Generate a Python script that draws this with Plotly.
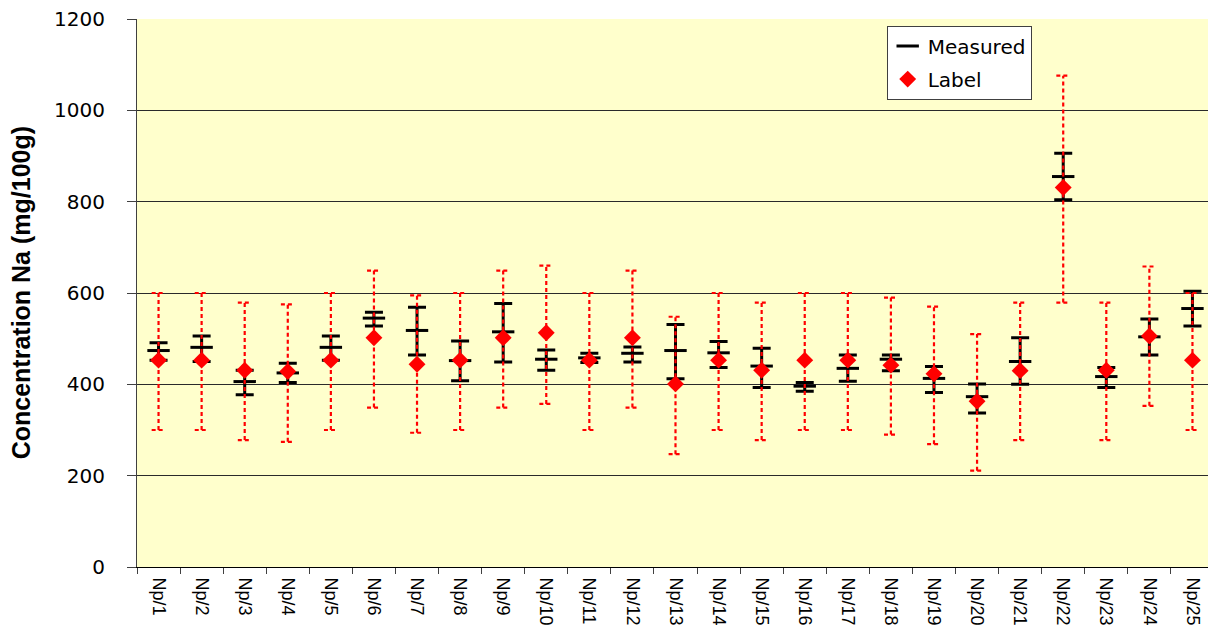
import plotly.graph_objects as go

# Sample codes
samples = [f"Np/{i}" for i in range(1, 26)]

# Measured sodium: mean with upper / lower limits (mg/100g)
measured_mean = [474, 481, 406, 425, 481, 545, 518, 452, 515, 455, 458, 468, 474,
                 469, 440, 396, 435, 455, 413, 373, 450, 855, 417, 504, 566]
measured_high = [491, 506, 431, 446, 506, 558, 569, 495, 577, 475, 468, 482, 531,
                 494, 479, 404, 464, 464, 439, 401, 502, 906, 437, 543, 604]
measured_low = [453, 450, 377, 404, 453, 528, 464, 408, 449, 431, 448, 449, 412,
                437, 393, 385, 407, 430, 382, 337, 400, 804, 393, 464, 528]

# Declared (label) sodium with its tolerance range (mg/100g)
label_value = [453, 453, 431, 428, 453, 502, 444, 453, 502, 513, 453, 502, 401,
               453, 431, 453, 453, 442, 423, 363, 430, 831, 431, 506, 453]
label_low = [300, 300, 278, 274, 300, 349, 294, 300, 349, 357, 300, 349, 247,
             300, 278, 300, 300, 290, 269, 211, 278, 579, 278, 353, 300]
label_high = [600, 600, 579, 575, 600, 649, 595, 600, 649, 660, 600, 649, 548,
              600, 579, 600, 600, 590, 570, 510, 579, 1076, 579, 658, 600]

y_ticks = [0, 200, 400, 600, 800, 1000, 1200]

positions = list(range(1, len(samples) + 1))
CAP = 0.16  # half-width of the dotted tolerance caps, in category units

fig = go.Figure()

# Measured values with black error bars
fig.add_trace(go.Scatter(
    x=positions, y=measured_mean, mode="markers", name="Measured",
    legendgroup="m",
    marker=dict(symbol="line-ew", size=16, color="black",
                line=dict(color="black", width=3)),
    error_y=dict(type="data", symmetric=False,
                 array=[h - m for h, m in zip(measured_high, measured_mean)],
                 arrayminus=[m - l for m, l in zip(measured_mean, measured_low)],
                 color="black", thickness=3, width=9),
    hoverinfo="skip",
))

# Dotted red tolerance ranges around the label values
rx, ry = [], []
for p, lo, hi in zip(positions, label_low, label_high):
    rx += [p, p, None, p - CAP, p + CAP, None, p - CAP, p + CAP, None]
    ry += [lo, hi, None, hi, hi, None, lo, lo, None]
fig.add_trace(go.Scatter(
    x=rx, y=ry, mode="lines", showlegend=False, legendgroup="l",
    line=dict(color="#ff0000", width=2.2, dash="4px,3px"),
    hoverinfo="skip",
))

# Label values as red diamonds
fig.add_trace(go.Scatter(
    x=positions, y=label_value, mode="markers", name="Label",
    legendgroup="l",
    marker=dict(symbol="diamond", size=13, color="#ff0000"),
    hoverinfo="skip",
))

fig.update_layout(
    width=1208, height=630,
    margin=dict(l=137, r=0, t=19, b=63),
    paper_bgcolor="white",
    plot_bgcolor="#ffffcc",
    showlegend=True,
    legend=dict(
        x=0.700, y=0.988, xanchor="left", yanchor="top",
        bgcolor="white", bordercolor="#404040", borderwidth=1,
        font=dict(family="DejaVu Sans", size=20, color="black"),
        tracegroupgap=4,
    ),
    annotations=[dict(
        text="<b>Concentration Na (mg/100g)</b>",
        xref="paper", yref="paper", x=-0.108, y=0.5,
        xanchor="center", yanchor="middle", textangle=-90, showarrow=False,
        font=dict(family="Liberation Sans", size=25, color="black"),
    )],
)

fig.update_xaxes(
    range=[0.5, 0.5 + 1071 / 43.08],
    tickmode="array", tickvals=positions, ticktext=samples,
    tickangle=90,
    ticks="outside", ticklen=6, tickcolor="rgba(0,0,0,0)",
    minor=dict(tickmode="linear", tick0=0.5, dtick=1, ticks="outside",
               ticklen=6, tickcolor="#404040", showgrid=False),
    showline=True, linecolor="black", linewidth=1,
    showgrid=False, zeroline=False,
    tickfont=dict(family="Liberation Sans", size=18, color="black"),
    automargin=False,
)

fig.update_yaxes(
    range=[0, 1200],
    tickmode="array", tickvals=y_ticks,
    ticks="outside", ticklen=9, tickcolor="#404040",
    ticklabelstandoff=18,
    showline=True, linecolor="#404040", linewidth=1,
    showgrid=True, gridcolor="#2a2a2a", gridwidth=1,
    zeroline=False,
    tickfont=dict(family="DejaVu Sans", size=20, color="black"),
    automargin=False,
)

fig.write_html("out.html")
